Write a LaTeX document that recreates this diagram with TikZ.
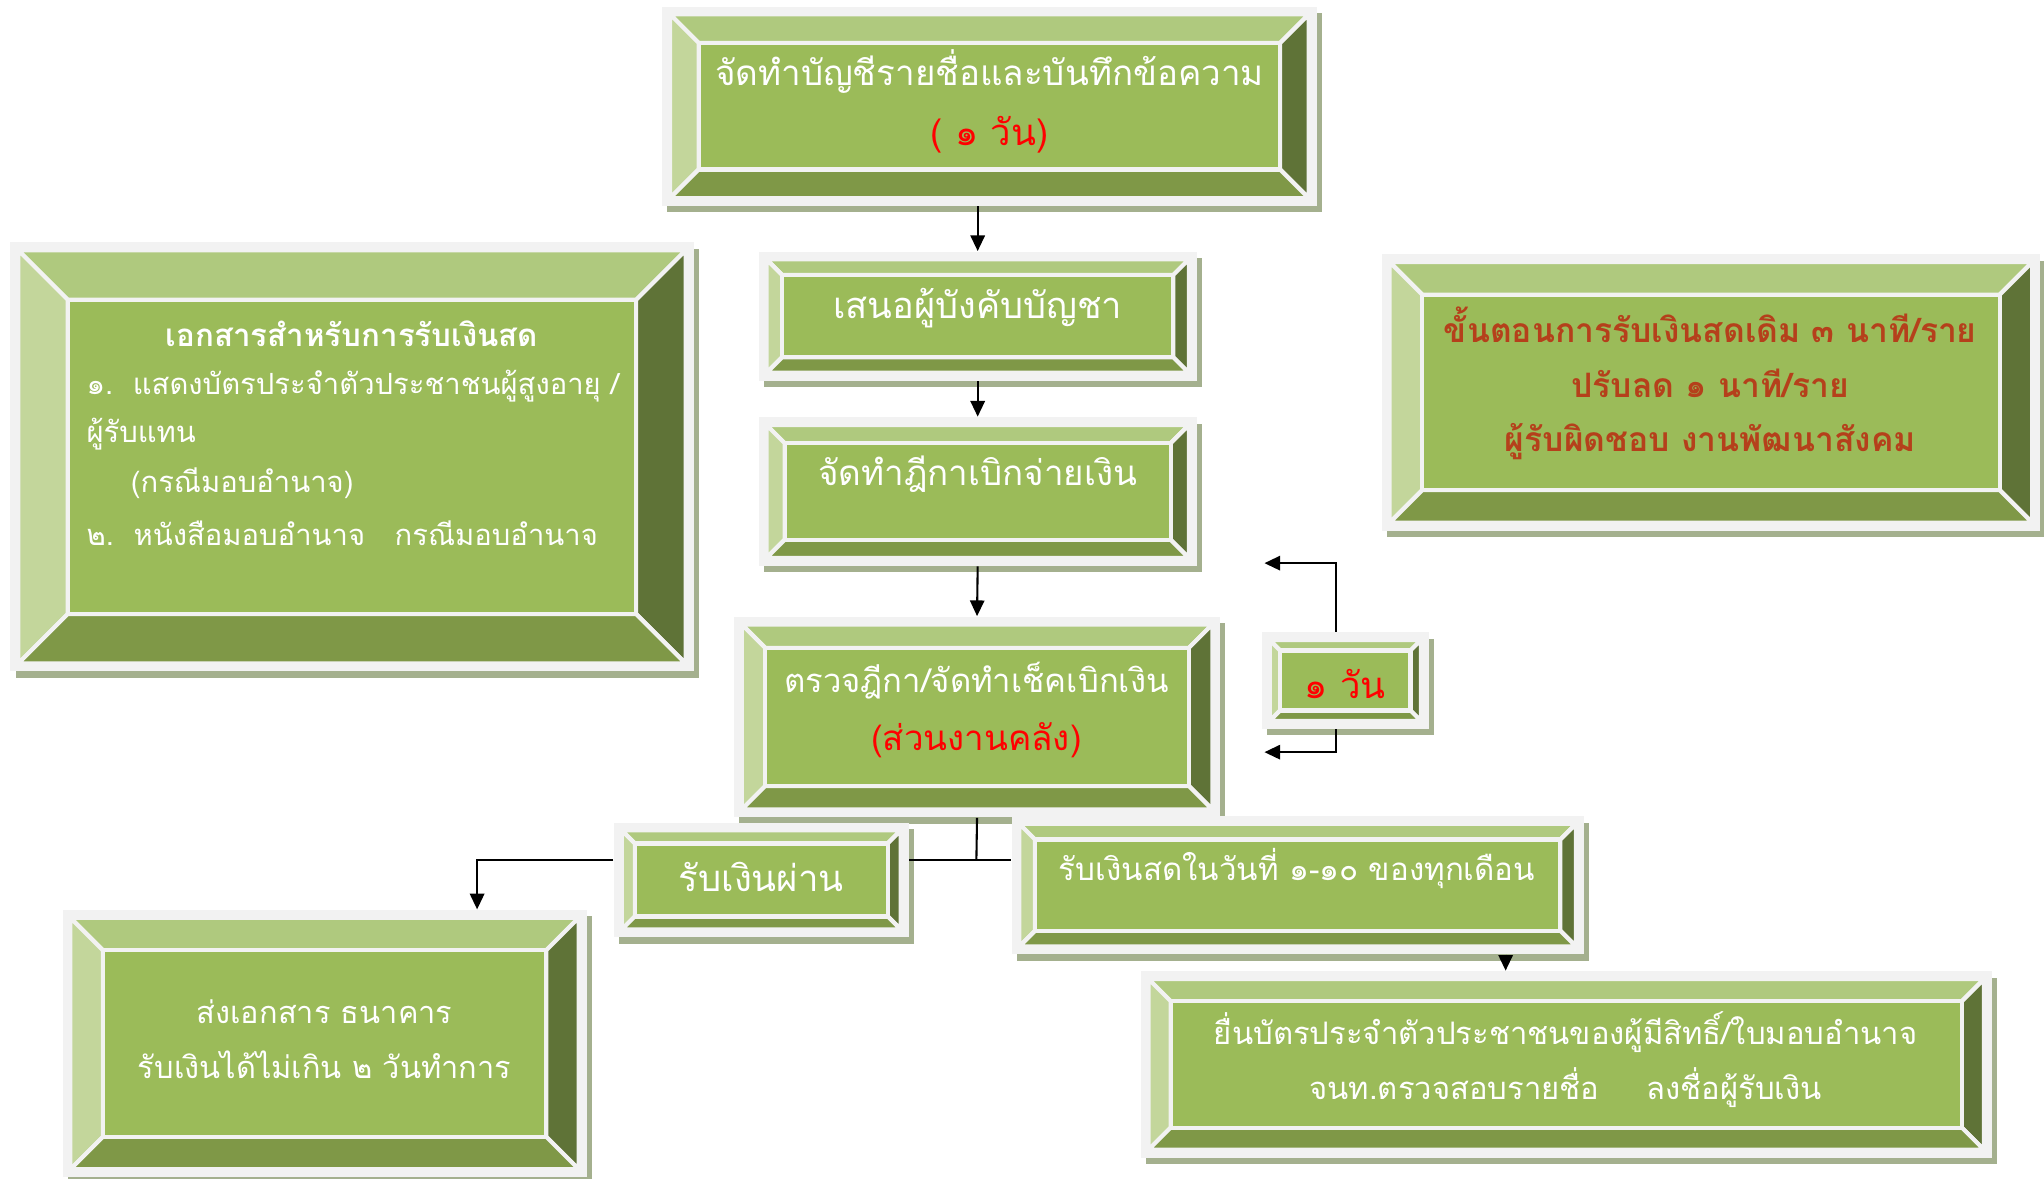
\documentclass[tikz,border=0pt]{standalone}
\usepackage{fontspec}
\newfontfamily\thai[Script=Thai]{Loma}
\usetikzlibrary{calc,arrows.meta}
\definecolor{framec}{HTML}{F2F2F2}
\definecolor{topc}{HTML}{AFC97E}
\definecolor{leftc}{HTML}{C3D69B}
\definecolor{rightc}{HTML}{5F7337}
\definecolor{botc}{HTML}{7F9847}
\definecolor{innerc}{HTML}{9BBB59}
\definecolor{shadowc}{HTML}{A4B08E}
\definecolor{brownc}{HTML}{B5401B}
\definecolor{redc}{HTML}{FF0000}
\tikzset{
  boxnode/.style={rectangle, inner sep=0pt, draw=none},
  sep/.style={draw=framec, line width=1.6pt, line join=miter},
  wt/.style={font=\thai\fontsize{#1}{16}\selectfont, text=white, inner sep=0pt},
  wt/.default=14,
  rt/.style={wt=#1, text=redc},
  rt/.default=14,
  bt/.style={text=brownc, inner sep=0pt, font=\thai\bfseries\fontsize{#1}{16}\selectfont},
  bt/.default=12.9,
  lt/.style={wt=#1, anchor=west},
  lt/.default=11.2,
  arr/.style={-{Triangle[length=6pt,width=5.5pt]}, line width=0.8pt, black},
  ln/.style={line width=0.8pt, black},
}
% #1 name, #2 x1, #3 y1, #4 x2, #5 y2, #6 bevel depth
\newcommand\bevbox[6]{%
  \pgfmathsetmacro\bvw{(#4-#2)*0.5}%
  \pgfmathsetmacro\bvh{(#5-#3)*0.5}%
  \fill[shadowc] (#2+4,#3+5) rectangle (#4+4,#5+5);
  \fill[framec] (#2,#3) rectangle (#4,#5);
  \path[fill=topc, sep] (#2+6,#3+6) -- (#4-6,#3+6) -- (#4-6-#6,#3+6+#6) -- (#2+6+#6,#3+6+#6) -- cycle;
  \path[fill=leftc, sep] (#2+6,#3+6) -- (#2+6+#6,#3+6+#6) -- (#2+6+#6,#5-6-#6) -- (#2+6,#5-6) -- cycle;
  \path[fill=rightc, sep] (#4-6,#3+6) -- (#4-6,#5-6) -- (#4-6-#6,#5-6-#6) -- (#4-6-#6,#3+6+#6) -- cycle;
  \path[fill=botc, sep] (#2+6,#5-6) -- (#4-6,#5-6) -- (#4-6-#6,#5-6-#6) -- (#2+6+#6,#5-6-#6) -- cycle;
  \path[fill=innerc, sep] (#2+6+#6,#3+6+#6) rectangle (#4-6-#6,#5-6-#6);
  \node[boxnode, minimum width=\bvw pt, minimum height=\bvh pt] (#1) at ({(#2+#4)/2},{(#3+#5)/2}) {};
}
\begin{document}
\begin{tikzpicture}[x=0.5pt,y=-0.5pt]
\useasboundingbox (0,0) rectangle (1568,904);
% boxes
\bevbox{b1}{508}{5}{1010}{158}{22}
\bevbox{b2}{582}{193}{918}{292}{12}
\bevbox{b3}{582}{320}{918}{434}{14}
\bevbox{b4}{563}{473}{936}{627}{18}
\bevbox{b5}{968}{485}{1096}{559}{8}
\bevbox{b6}{8}{186}{532}{515}{38}
\bevbox{b7}{1060}{195}{1565}{407}{25}
\bevbox{b8}{471}{631}{697}{719}{10}
\bevbox{b9}{776}{626}{1215}{732}{12}
\bevbox{b10}{48}{698}{450}{903}{25}
\bevbox{b11}{875}{745}{1528}{888}{17}
% texts
\node[wt=13.4] (t1a) at (759,55) {จัดทำบัญชีรายชื่อและบันทึกข้อความ};
\node[rt] (t1b) at (759,103) {( ๑ วัน)};
\node[wt=13.9] (t2) at (750,236) {เสนอผู้บังคับบัญชา};
\node[wt=13.4] (t3) at (750,364) {จัดทำฎีกาเบิกจ่ายเงิน};
\node[wt=12.6] (t4a) at (749,522) {ตรวจฎีกา/จัดทำเช็คเบิกเงิน};
\node[rt=13.4] (t4b) at (749,568) {(ส่วนงานคลัง)};
\node[rt] (t5) at (1032,525) {๑ วัน};
\node[wt, font=\thai\bfseries\fontsize{12}{16}\selectfont] (t6a) at (270,256) {เอกสารสำหรับการรับเงินสด};
\node[lt] (t6b) at (66,296) {๑.\ \ แสดงบัตรประจำตัวประชาชนผู้สูงอายุ /};
\node[lt] (t6c) at (66,333) {ผู้รับแทน};
\node[lt] (t6d) at (100,371) {(กรณีมอบอำนาจ)};
\node[lt] (t6e) at (66,409) {๒.\ \ หนังสือมอบอำนาจ\ \ \ กรณีมอบอำนาจ};
\node[bt] (t7a) at (1312,249) {ขั้นตอนการรับเงินสดเดิม ๓ นาที/ราย};
\node[bt] (t7b) at (1312,294) {ปรับลด ๑ นาที/ราย};
\node[bt] (t7c) at (1312,339) {ผู้รับผิดชอบ งานพัฒนาสังคม};
\node[wt] (t8) at (584,673) {รับเงินผ่าน};
\node[wt=12] (t9) at (995,666) {รับเงินสดในวันที่ ๑-๑๐ ของทุกเดือน};
\node[wt=11.8] (t10a) at (249,776) {ส่งเอกสาร ธนาคาร};
\node[wt=11.8] (t10b) at (249,817) {รับเงินได้ไม่เกิน ๒ วันทำการ};
\node[wt=11.9] (t11a) at (1201,792) {ยื่นบัตรประจำตัวประชาชนของผู้มีสิทธิ์/ใบมอบอำนาจ};
\node[wt=11.9] (t11b) at (1201,834) {จนท.ตรวจสอบรายชื่อ\hspace{18pt}ลงชื่อผู้รับเงิน};
% helper coordinates
\coordinate (r1) at (970,432);
\coordinate (r2) at (970,577);
\coordinate (vx) at (1025,0);
\coordinate (j) at (749,660);
\coordinate (k) at (366,660);
\coordinate (k2) at (1155,0);
% connectors
\draw[arr] (b2.north |- b1.south) -- (b2.north);
\draw[arr] (b2.south) -- (b3.north);
\draw[arr] (b3.south) -- (b4.north);
\draw[arr] (vx |- b5.north) |- (r1);
\draw[arr] (vx |- b5.south) |- (r2);
\draw[ln] (b4.south) -- (j);
\draw[ln] (b8.east |- j) -- (b9.west |- j);
\draw[arr] (b8.west |- j) -| (k |- b10.north);
\draw[arr] (k2 |- b9.south) -- (k2 |- b11.north);
\end{tikzpicture}
\end{document}
